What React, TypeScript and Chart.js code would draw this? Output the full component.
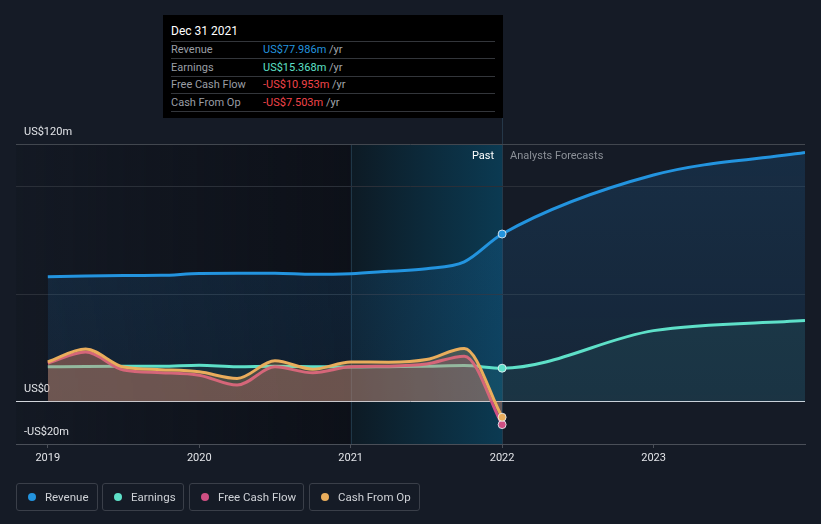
import React, { useEffect, useRef } from 'react';
import { Chart, registerables } from 'chart.js';
Chart.register(...registerables);

const quarters = [2019, 2019.25, 2019.5, 2019.75, 2020, 2020.25, 2020.5, 2020.75, 2021, 2021.25, 2021.5, 2021.75, 2022];
const forecastYears = [2023, 2024];
const revenuePast = [58.0, 58.4, 58.6, 58.7, 59.6, 59.7, 59.7, 59.2, 59.5, 60.6, 61.8, 65.0, 77.986];
const revenueForecast = [105.5, 116.0];
const earningsPast = [16.0, 16.2, 16.3, 16.3, 16.8, 16.1, 16.3, 16.1, 15.9, 16.1, 16.3, 16.6, 15.368];
const earningsForecast = [32.9, 37.6];
const fcfPast = [17.7, 22.9, 14.5, 13.3, 12.1, 7.5, 16.0, 13.2, 16.0, 16.3, 17.3, 21.0, -10.953];
const cfoPast = [18.3, 24.3, 15.9, 14.7, 13.7, 10.6, 18.8, 14.9, 18.3, 18.2, 19.4, 24.6, -7.503];
const yTicks = [-20, 0, 50, 100, 120];
const yTickLabels: Record<string, string> = { '120': 'US$120m', '0': 'US$0', '-20': '-US$20m' };
const xTicks = [2019, 2020, 2021, 2022, 2023];

const C_REV = '#2394df';
const C_EARN = '#5ee0c8';
const C_FCF = '#cf4f83';
const C_CFO = '#e9ad5c';
const BG = '#151b26';
const FONT = 'Roboto, "Noto Sans", sans-serif';

const pts = (xs: number[], ys: number[]) => xs.map((x, i) => ({ x, y: ys[i] }));

const tooltipRows = [
  { label: 'Revenue', value: 'US$77.986m', color: C_REV },
  { label: 'Earnings', value: 'US$15.368m', color: C_EARN },
  { label: 'Free Cash Flow', value: '-US$10.953m', color: '#f0444a' },
  { label: 'Cash From Op', value: '-US$7.503m', color: '#f0444a' },
];

const legendItems = [
  { label: 'Revenue', color: C_REV, left: 16, width: 82 },
  { label: 'Earnings', color: C_EARN, left: 102, width: 82 },
  { label: 'Free Cash Flow', color: C_FCF, left: 189, width: 115 },
  { label: 'Cash From Op', color: C_CFO, left: 309, width: 111 },
];

const bgPlugin = {
  id: 'bgPlugin',
  beforeDraw(chart: any) {
    const { ctx, chartArea: a, scales } = chart;
    const x = scales.x;
    const x21 = x.getPixelForValue(2021);
    const x22 = x.getPixelForValue(2022);
    ctx.save();
    let g = ctx.createLinearGradient(a.left, 0, x21, 0);
    g.addColorStop(0, 'rgba(8,10,16,0.1)');
    g.addColorStop(1, 'rgba(8,10,16,0.6)');
    ctx.fillStyle = g;
    ctx.fillRect(a.left, a.top, x21 - a.left, a.bottom - a.top);
    g = ctx.createLinearGradient(x21, 0, x22, 0);
    g.addColorStop(0, '#0d1a24');
    g.addColorStop(1, '#0b3a52');
    ctx.fillStyle = g;
    ctx.fillRect(x21, a.top, x22 - x21, a.bottom - a.top);
    ctx.strokeStyle = 'rgba(80,130,160,0.28)';
    ctx.lineWidth = 1;
    ctx.beginPath();
    const l1 = Math.round(x21) + 0.5;
    const l2 = Math.round(x22) + 0.5;
    ctx.moveTo(l1, a.top);
    ctx.lineTo(l1, a.bottom);
    ctx.moveTo(l2, 118);
    ctx.lineTo(l2, a.bottom);
    ctx.stroke();
    ctx.font = '11px ' + FONT;
    ctx.textBaseline = 'middle';
    ctx.fillStyle = '#ffffff';
    ctx.textAlign = 'right';
    ctx.fillText('Past', x22 - 8, a.top + 12);
    ctx.fillStyle = '#8b9097';
    ctx.textAlign = 'left';
    ctx.fillText('Analysts Forecasts', x22 + 8, a.top + 12);
    ctx.restore();
  },
};

const vGrad = (color0: string, color1: string) => (c: any) => {
  const { chart } = c;
  const a = chart.chartArea;
  if (!a) return color0;
  const y0 = chart.scales.y.getPixelForValue(0);
  const g = chart.ctx.createLinearGradient(0, a.top, 0, y0);
  g.addColorStop(0, color0);
  g.addColorStop(1, color1);
  return g;
};

const ptRadius = (c: any) => (c.raw && c.raw.x === 2022 ? 4 : 0);

export default function App() {
  const ref = useRef<HTMLCanvasElement | null>(null);
  useEffect(() => {
    if (!ref.current) return;
    const common = {
      fill: 'origin',
      borderWidth: 3,
      cubicInterpolationMode: 'monotone',
      pointRadius: ptRadius,
      pointHoverRadius: ptRadius,
      pointBorderColor: 'rgba(235,240,245,0.85)',
      pointBorderWidth: 1,
    };
    const chart = new Chart(ref.current, {
      type: 'line',
      data: {
        datasets: [
          {
            ...common,
            label: 'Revenue',
            data: pts([...quarters, ...forecastYears], [...revenuePast, ...revenueForecast]),
            borderColor: C_REV,
            pointBackgroundColor: C_REV,
            backgroundColor: vGrad('rgba(33,120,190,0.2)', 'rgba(33,120,190,0.12)'),
            order: 4,
          },
          {
            ...common,
            label: 'Earnings',
            data: pts([...quarters, ...forecastYears], [...earningsPast, ...earningsForecast]),
            borderColor: C_EARN,
            pointBackgroundColor: C_EARN,
            backgroundColor: 'rgba(94,224,200,0.08)',
            order: 3,
          },
          {
            ...common,
            label: 'Free Cash Flow',
            data: pts(quarters, fcfPast),
            borderColor: C_FCF,
            pointBackgroundColor: C_FCF,
            backgroundColor: 'rgba(200,80,120,0.25)',
            order: 2,
          },
          {
            ...common,
            label: 'Cash From Op',
            data: pts(quarters, cfoPast),
            borderColor: C_CFO,
            pointBackgroundColor: C_CFO,
            backgroundColor: 'rgba(232,172,90,0.25)',
            order: 1,
          },
        ] as any,
      },
      options: {
        animation: false,
        responsive: false,
        devicePixelRatio: 1,
        events: [],
        layout: { padding: { left: 16, right: 16, top: 144, bottom: 50 } },
        plugins: { legend: { display: false }, tooltip: { enabled: false } },
        scales: {
          x: {
            type: 'linear',
            min: 2018.79,
            max: 2024.0,
            afterBuildTicks: (s: any) => {
              s.ticks = xTicks.map((v) => ({ value: v }));
            },
            afterFit: (s: any) => {
              s.height = 30;
            },
            ticks: {
              color: '#e2e4e8',
              font: { family: FONT, size: 11 },
              padding: 4,
              maxRotation: 0,
              autoSkip: false,
              callback: (v: any) => String(v),
            },
            grid: { drawOnChartArea: false, drawTicks: true, tickLength: 4, color: '#4a4f58' },
            border: { display: true, color: '#4a4f58' },
          },
          y: {
            type: 'linear',
            min: -20,
            max: 120,
            afterBuildTicks: (s: any) => {
              s.ticks = yTicks.map((v) => ({ value: v }));
            },
            afterFit: (s: any) => {
              s.width = 0;
            },
            ticks: {
              mirror: true,
              padding: 8,
              labelOffset: -12,
              color: '#e2e4e8',
              font: { family: FONT, size: 11 },
              callback: (v: any) => yTickLabels[String(v)] ?? '',
            },
            grid: {
              drawTicks: false,
              color: (c: any) => {
                const v = c.tick && c.tick.value;
                if (v === 0) return '#d2d6dc';
                if (v === 120) return '#42474f';
                if (v === -20) return 'rgba(0,0,0,0)';
                return '#2a2f38';
              },
            },
            border: { display: false },
          },
        },
      } as any,
      plugins: [bgPlugin],
    });
    return () => chart.destroy();
  }, []);

  return (
    <div style={{ position: 'fixed', left: 0, top: 0, width: 821, height: 524, background: BG, fontFamily: FONT, overflow: 'hidden' }}>
      <canvas ref={ref} width={821} height={524} style={{ position: 'absolute', left: 0, top: 0, width: 821, height: 524 }} />
      <div style={{ position: 'absolute', left: 163, top: 15, width: 340, height: 103, background: '#000' }}>
        <div style={{ position: 'absolute', left: 8, top: 8, fontSize: 12, color: '#fff', lineHeight: '16px' }}>Dec 31 2021</div>
        {[26, 43, 61, 78, 96].map((t) => (
          <div key={t} style={{ position: 'absolute', left: 8, width: 324, top: t, height: 1, background: '#33363b' }} />
        ))}
        {tooltipRows.map((r, i) => (
          <div key={r.label} style={{ position: 'absolute', left: 8, top: 27 + i * 17.5, height: 16, lineHeight: '16px', fontSize: 11, width: 324 }}>
            <span style={{ position: 'absolute', left: 0, color: '#9a9ea5' }}>{r.label}</span>
            <span style={{ position: 'absolute', left: 92, color: r.color, whiteSpace: 'nowrap' }}>
              {r.value}
              <span style={{ color: '#a3a7ad' }}> /yr</span>
            </span>
          </div>
        ))}
      </div>
      {legendItems.map((it) => (
        <div
          key={it.label}
          style={{
            position: 'absolute',
            left: it.left,
            top: 483,
            width: it.width,
            height: 28,
            boxSizing: 'border-box',
            border: '1px solid #3a3f49',
            borderRadius: 3,
          }}
        >
          <span style={{ position: 'absolute', left: 11, top: 9, width: 8, height: 8, borderRadius: 4, background: it.color }} />
          <span style={{ position: 'absolute', left: 28, top: 0, lineHeight: '26px', fontSize: 11.5, color: '#cfd2d7', whiteSpace: 'nowrap' }}>{it.label}</span>
        </div>
      ))}
    </div>
  );
}
